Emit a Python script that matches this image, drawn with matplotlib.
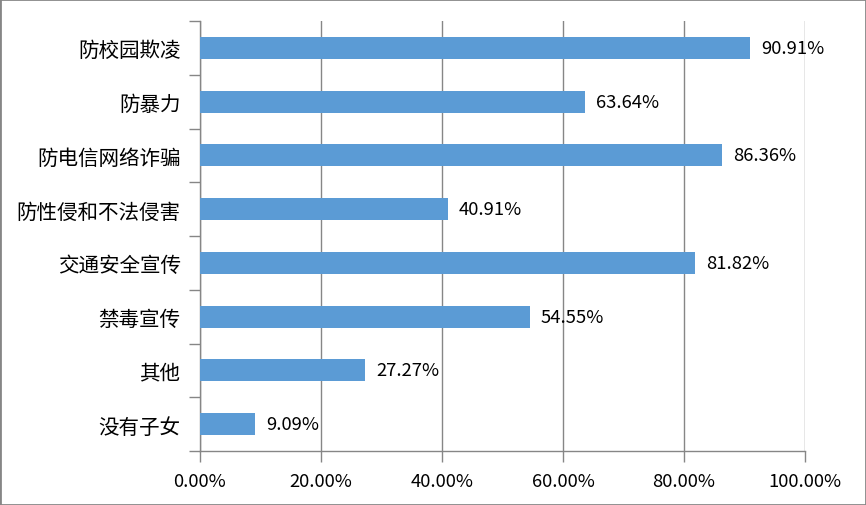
import matplotlib.pyplot as plt
import matplotlib.patches as patches
import numpy as np

plt.rcParams['font.family'] = ['Noto Sans CJK SC', 'DejaVu Sans']

categories = ['防校园欺凌', '防暴力', '防电信网络诈骗', '防性侵和不法侵害',
              '交通安全宣传', '禁毒宣传', '其他', '没有子女']
values = [90.91, 63.64, 86.36, 40.91, 81.82, 54.55, 27.27, 9.09]
xticks = [0, 20, 40, 60, 80, 100]

grey = '#868686'
bar_color = '#5B9BD5'

fig = plt.figure(figsize=(8.66, 5.06), dpi=100)
ax = fig.add_axes([200 / 866, 54 / 506, 605 / 866, 430 / 506])

y = np.arange(len(categories))
ax.barh(y, values, height=0.41, color=bar_color, zorder=3)
for yi, v in zip(y, values):
    ax.text(v + 1.8, yi, f'{v:.2f}%', va='center', ha='left', fontsize=13.3, zorder=4)

ax.set_xlim(0, 100)
ax.set_ylim(len(categories) - 0.5, -0.5)
ax.set_xticks(xticks)
ax.set_xticklabels([f'{t:.2f}%' for t in xticks], fontsize=13.3)
ax.set_yticks(y)
ax.set_yticklabels(categories, fontsize=14.8)
ax.set_yticks(np.arange(-0.5, len(categories)), minor=True)
ax.tick_params(axis='y', which='major', length=0, pad=14)
ax.tick_params(axis='y', which='minor', length=8, color=grey, width=1)
ax.tick_params(axis='x', length=8, color=grey, width=1, pad=7)

ax.grid(axis='x', color=grey, linewidth=1, zorder=0)
for s in ['top', 'right']:
    ax.spines[s].set_visible(False)
for s in ['left', 'bottom']:
    ax.spines[s].set_color(grey)
    ax.spines[s].set_linewidth(1)

fig.patches.append(patches.Rectangle((0, 0), 1, 1, transform=fig.transFigure,
                                     fill=False, edgecolor=grey, linewidth=2))

fig.savefig('out.png', dpi=100)
